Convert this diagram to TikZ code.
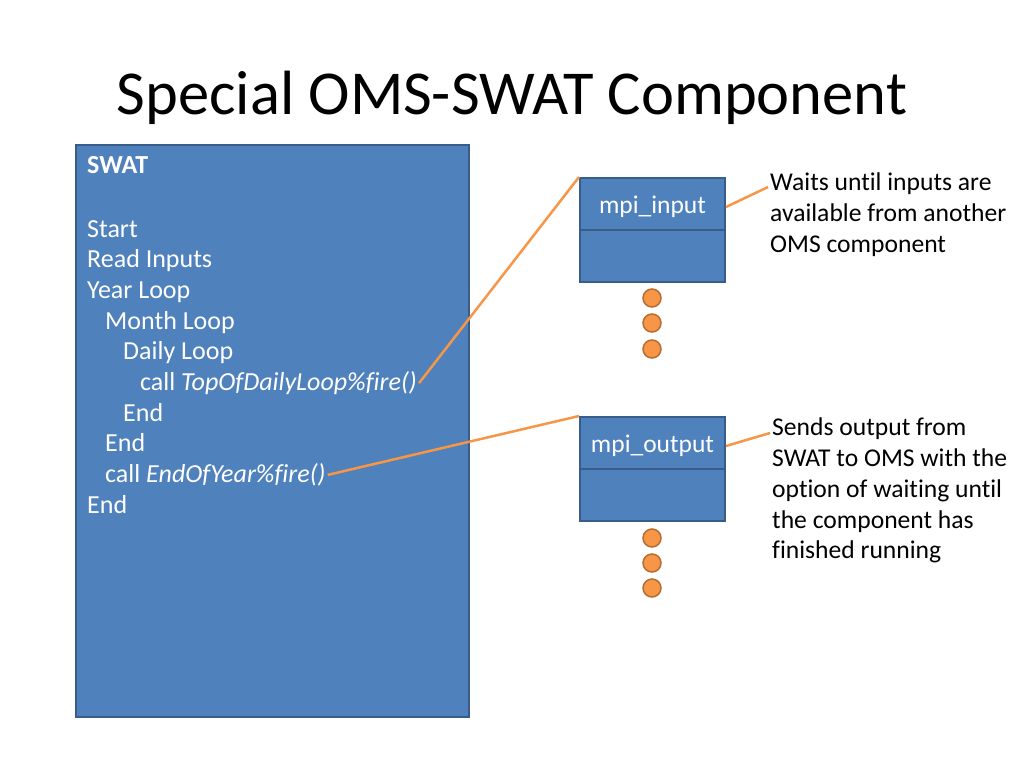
\documentclass[tikz,border=0pt]{standalone}
\usepackage{fontspec}
\setmainfont[Ligatures=CommonOff]{Carlito}
\definecolor{boxblue}{HTML}{4F81BD}
\definecolor{boxedge}{HTML}{385D8A}
\definecolor{linkorange}{HTML}{F79646}
\definecolor{dotedge}{HTML}{B66D31}
\begin{document}
\begin{tikzpicture}[x=1pt, y=-1pt,
	blk/.style={shape=rectangle, draw=boxedge, line width=2pt, fill=boxblue, inner sep=0pt},
	code/.style={anchor=base west, text=white, inner sep=2pt, font=\fontsize{26}{30}\selectfont},
	note/.style={anchor=north west, align=left, inner sep=0pt, font=\fontsize{25.6}{30.7}\selectfont},
	dot/.style={shape=circle, draw=dotedge, line width=1.5pt, fill=linkorange, minimum size=18pt, inner sep=0pt},
	link/.style={draw=linkorange, line width=2.5pt}]
	\useasboundingbox (0,0) rectangle (1024,768);
	\node (title) at (512,98) {\fontsize{62.5}{70}\selectfont Special OMS-SWAT Component};
	% SWAT program
	\node (swat) at (272.5,431) [blk, minimum width=393pt, minimum height=572pt] {};
	\node (l0) at (85,173) [code] {\textbf{SWAT}};
	\node (l1) at (85,237) [code] {Start};
	\node (l2) at (85,267.7) [code] {Read Inputs};
	\node (l3) at (85,298.4) [code] {Year Loop};
	\node (l4) at (103,329.1) [code] {Month Loop};
	\node (l5) at (121,359.8) [code] {Daily Loop};
	\node (callTop) at (138,390.5) [code] {call \textit{TopOfDailyLoop\%fire()}};
	\node (l7) at (121,421.2) [code] {End};
	\node (l8) at (103,451.9) [code] {End};
	\node (callYear) at (103,482.6) [code] {call \textit{EndOfYear\%fire()}};
	\node (l10) at (85,513.3) [code] {End};
	% mpi components
	\node (inbox) at (652.5,230) [blk, minimum width=145pt, minimum height=104pt] {};
	\draw [boxedge, line width=2pt] (inbox.west) -- (inbox.east);
	\node (inlabel) at (652.5,207) [text=white, font=\fontsize{25.5}{28}\selectfont] {mpi\_input};
	\node (outbox) at (652.5,469) [blk, minimum width=145pt, minimum height=104pt] {};
	\draw [boxedge, line width=2pt] (outbox.west) -- (outbox.east);
	\node (outlabel) at (652.5,446) [text=white, font=\fontsize{25.5}{28}\selectfont] {mpi\_output};
	\foreach \y in {298,323,349} \node at (652,\y) [dot] {};
	\foreach \y in {538,563,588} \node at (652,\y) [dot] {};
	% notes
	\node (waitnote) at (770,173) [note] {Waits until inputs are\\available from another\\OMS component};
	\node (sendnote) at (772,418) [note] {Sends output from\\SWAT to OMS with the\\option of waiting until\\the component has\\finished running};
	\coordinate (waitend) at (768,187);
	\coordinate (sendend) at (770,433);
	% connectors
	\draw [link] (callTop.east) -- (inbox.north west);
	\draw [link] (callYear.east) -- (outbox.north west);
	\draw [link] (inbox.east |- inlabel) -- (waitend);
	\draw [link] (outbox.east |- outlabel) -- (sendend);
\end{tikzpicture}
\end{document}
